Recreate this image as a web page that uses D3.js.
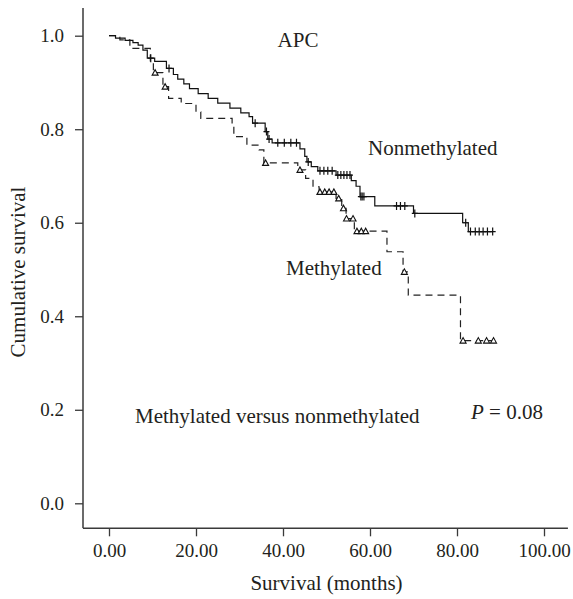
<!DOCTYPE html>
<html>
<head>
<meta charset="utf-8">
<script src="https://cdn.jsdelivr.net/npm/d3@7"></script>
<style>
  body { margin: 0; background: #fff; }
  text { font-family: "Liberation Serif", "DejaVu Serif", serif; fill: #231f20; }
</style>
</head>
<body>
<div id="chart"></div>
<script>
// Kaplan-Meier steps (time in months, cumulative survival)
const nonTimes = [0, 1.5, 3.7, 5.5, 6.7, 7.8, 8.8, 10.5, 13.2, 14.8, 15.8, 17.2, 18.5, 20.5, 22.8, 25.0, 27.8, 30.3, 32.2, 33.0, 35.9, 36.5, 37.5, 43.9, 45.0, 45.5, 46.5, 48.0, 52.2, 55.7, 56.8, 57.7, 61.1, 70.0, 81.3, 82.6, 88.2];
const nonSurv  = [1.0, 0.995, 0.99, 0.985, 0.98, 0.969, 0.952, 0.945, 0.930, 0.917, 0.907, 0.897, 0.887, 0.876, 0.866, 0.856, 0.845, 0.835, 0.827, 0.813, 0.795, 0.779, 0.771, 0.758, 0.742, 0.730, 0.720, 0.711, 0.702, 0.690, 0.678, 0.656, 0.636, 0.620, 0.600, 0.581, 0.581];
const nonCensor = [9.6, 13.8, 33.6, 36.2, 36.8, 38.8, 40.3, 41.8, 43.1, 45.8, 48.5, 49.4, 50.3, 51.3, 52.6, 53.3, 54.0, 54.7, 55.4, 57.9, 58.2, 58.6, 66.1, 67.0, 68.0, 70.3, 82.0, 83.1, 84.2, 85.1, 86.0, 87.0, 88.2];

const metTimes = [0, 2.5, 4.8, 9.5, 10.2, 12.4, 13.7, 16.6, 20.0, 21.1, 28.3, 28.7, 31.7, 34.5, 35.6, 43.4, 45.2, 46.9, 48.3, 52.2, 53.5, 54.5, 56.4, 63.9, 67.6, 68.8, 80.8, 88.4];
const metSurv  = [1.0, 0.991, 0.973, 0.946, 0.921, 0.891, 0.866, 0.855, 0.837, 0.823, 0.806, 0.784, 0.766, 0.756, 0.728, 0.713, 0.695, 0.677, 0.666, 0.652, 0.631, 0.609, 0.582, 0.538, 0.495, 0.445, 0.348, 0.348];
const metCensor = [10.6, 12.9, 36.0, 43.9, 48.5, 49.6, 50.6, 51.7, 52.8, 53.9, 54.6, 56.1, 57.0, 58.0, 59.0, 67.9, 81.4, 84.9, 86.8, 88.4];

const xTicks = [0, 20, 40, 60, 80, 100];
const yTicks = [0, 0.2, 0.4, 0.6, 0.8, 1.0];

const width = 573, height = 599;

const svg = d3.select("#chart")
  .append("svg")
    .attr("width", width)
    .attr("height", height);

const x = d3.scaleLinear().domain([0, 100]).range([109, 544]);
const y = d3.scaleLinear().domain([0, 1]).range([503.3, 35.7]);

const axisColor = "#3a3a3a";
const tickFont = "19px";
const labelFont = "21px";

// Y axis
const gy = svg.append("g")
  .attr("transform", "translate(83,0)")
  .call(d3.axisLeft(y).tickValues(yTicks).tickFormat(d3.format(".1f")).tickSize(8).tickPadding(11));
gy.select(".domain").remove();
gy.selectAll("line").attr("stroke", axisColor).attr("stroke-width", 1.3);
gy.selectAll("text").style("font-size", tickFont).attr("font-family", null);
svg.append("line")
  .attr("x1", 83).attr("x2", 83)
  .attr("y1", y(1.059)).attr("y2", y(-0.053))
  .attr("stroke", axisColor).attr("stroke-width", 1.5);

// X axis
const gx = svg.append("g")
  .attr("transform", "translate(0,528.3)")
  .call(d3.axisBottom(x).tickValues(xTicks).tickFormat(d3.format(".2f")).tickSize(8).tickPadding(7));
gx.select(".domain").remove();
gx.selectAll("line").attr("stroke", axisColor).attr("stroke-width", 1.3);
gx.selectAll("text").style("font-size", tickFont).attr("font-family", null);
svg.append("line")
  .attr("x1", x(-6)).attr("x2", x(105.5))
  .attr("y1", 528.3).attr("y2", 528.3)
  .attr("stroke", axisColor).attr("stroke-width", 1.5);

// axis titles
svg.append("text")
  .attr("x", x(50)).attr("y", 590)
  .attr("text-anchor", "middle")
  .style("font-size", labelFont)
  .text("Survival (months)");
svg.append("text")
  .attr("transform", `translate(25,272) rotate(-90)`)
  .attr("text-anchor", "middle")
  .style("font-size", labelFont)
  .text("Cumulative survival");

// survival curves
const line = d3.line()
  .x(d => x(d[0]))
  .y(d => y(d[1]))
  .curve(d3.curveStepAfter);

const nonData = nonTimes.map((t, i) => [t, nonSurv[i]]);
const metData = metTimes.map((t, i) => [t, metSurv[i]]);

const survAt = (times, surv, t) => surv[d3.bisectRight(times, t) - 1];

svg.append("path")
  .datum(metData)
  .attr("fill", "none")
  .attr("stroke", "#222")
  .attr("stroke-width", 1.2)
  .attr("stroke-dasharray", "7,5")
  .attr("d", line);

svg.append("path")
  .datum(nonData)
  .attr("fill", "none")
  .attr("stroke", "#111")
  .attr("stroke-width", 1.2)
  .attr("d", line);

// censor marks: plus for nonmethylated
svg.append("g").selectAll("path")
  .data(nonCensor)
  .join("path")
    .attr("transform", d => `translate(${x(d)},${y(survAt(nonTimes, nonSurv, d))})`)
    .attr("d", "M-3,0H3M0,-4V4")
    .attr("stroke", "#111")
    .attr("stroke-width", 1.2)
    .attr("fill", "none");

// censor marks: triangles for methylated
svg.append("g").selectAll("path")
  .data(metCensor)
  .join("path")
    .attr("transform", d => `translate(${x(d)},${y(survAt(metTimes, metSurv, d))})`)
    .attr("d", "M-3,2.5L0,-3L3,2.5Z")
    .attr("stroke", "#111")
    .attr("stroke-width", 1.1)
    .attr("fill", "#fff");

// annotations
svg.append("text").attr("x", 298).attr("y", 47).attr("text-anchor", "middle")
  .style("font-size", labelFont).text("APC");
svg.append("text").attr("x", 368).attr("y", 155)
  .style("font-size", labelFont).text("Nonmethylated");
svg.append("text").attr("x", 286).attr("y", 275)
  .style("font-size", labelFont).text("Methylated");
svg.append("text").attr("x", 135).attr("y", 423)
  .style("font-size", labelFont).text("Methylated versus nonmethylated");
const pt = svg.append("text").attr("x", 471).attr("y", 419)
  .style("font-size", labelFont);
pt.append("tspan").attr("font-style", "italic").text("P");
pt.append("tspan").text(" = 0.08");
</script>
</body>
</html>
